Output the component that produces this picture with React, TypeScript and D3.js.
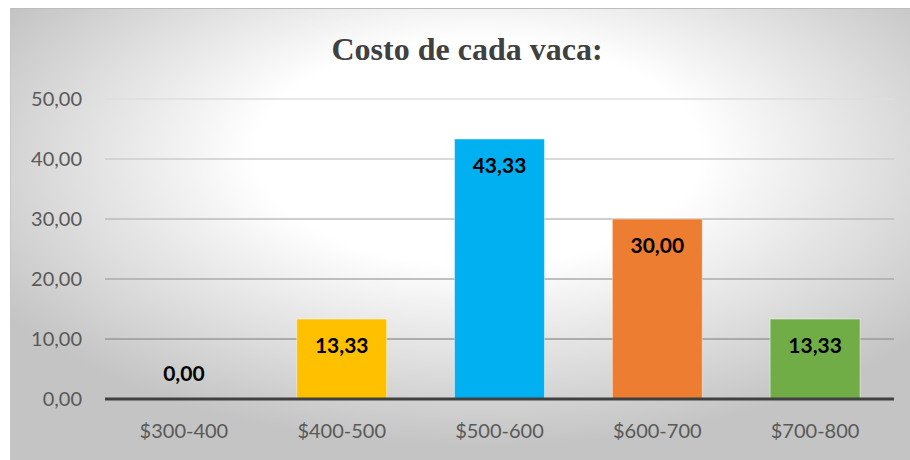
import React from "react";
import * as d3 from "d3";

const categories = ["$300-400", "$400-500", "$500-600", "$600-700", "$700-800"];
const values = [0, 13.33, 43.33, 30.0, 13.33];
const barColors = ["#A5A5A5", "#FFC000", "#00B0F0", "#ED7D31", "#70AD47"];
const yTicks = [0, 10, 20, 30, 40, 50];

const W = 910;
const H = 460;
const margin = { top: 99, right: 16, bottom: 61, left: 105 };

const fmt = (v: number) => v.toFixed(2).replace(".", ",");

const App = () => {
  const x = d3
    .scaleBand<string>()
    .domain(categories)
    .range([margin.left, W - margin.right])
    .paddingInner(0.43)
    .paddingOuter(0.215);
  const y = d3
    .scaleLinear()
    .domain([0, 50])
    .range([H - margin.bottom, margin.top]);

  const labelFont = "Lato, 'Open Sans', sans-serif";

  return (
    <svg
      width={W}
      height={H}
      style={{ position: "absolute", left: 0, top: 0 }}
    >
      <defs>
        <radialGradient id="bg" cx="52%" cy="35%" r="62%" fx="52%" fy="30%">
          <stop offset="0" stopColor="#ffffff" />
          <stop offset="0.4" stopColor="#ffffff" />
          <stop offset="1" stopColor="#c4c4c4" />
        </radialGradient>
        <linearGradient
          id="grid"
          gradientUnits="userSpaceOnUse"
          x1="0"
          y1={y(50)}
          x2="0"
          y2={y(0)}
        >
          <stop offset="0" stopColor="#dedede" />
          <stop offset="1" stopColor="#888888" />
        </linearGradient>
      </defs>
      <rect x={0} y={0} width={W} height={H} fill="#ffffff" />
      <rect x={10} y={8} width={W - 10} height={H - 8} fill="url(#bg)" />
      <line x1={10} x2={W} y1={8.5} y2={8.5} stroke="#bdbdbd" />
      <line x1={10.5} x2={10.5} y1={8} y2={H} stroke="#c6c6c6" />

      <text
        x={467}
        y={60}
        textAnchor="middle"
        fontFamily="'Liberation Serif', 'Times New Roman', serif"
        fontWeight="bold"
        fontSize={32}
        fill="#404040"
      >
        Costo de cada vaca:
      </text>

      {yTicks.map((t) => (
        <g key={t}>
          {t > 0 && (
            <line
              x1={margin.left}
              x2={W - margin.right}
              y1={y(t)}
              y2={y(t)}
              stroke="url(#grid)"
              strokeWidth={1.5}
            />
          )}
          <text
            x={82}
            y={y(t)}
            dy="0.35em"
            textAnchor="end"
            fontFamily={labelFont}
            fontSize={20}
            fill="#595959"
          >
            {fmt(t)}
          </text>
        </g>
      ))}

      {categories.map((c, i) => {
        const v = values[i];
        const bx = x(c) as number;
        const by = y(v);
        const inside = v > 0;
        return (
          <g key={c}>
            {inside && (
              <rect
                x={bx}
                y={by}
                width={x.bandwidth()}
                height={y(0) - by}
                fill={barColors[i]}
                stroke="#ffffff"
                strokeOpacity={0.45}
                strokeWidth={1}
              />
            )}
            <text
              x={bx + x.bandwidth() / 2}
              y={inside ? by + 27 : by - 25}
              dy="0.35em"
              textAnchor="middle"
              fontFamily={labelFont}
              fontWeight="bold"
              fontSize={21}
              fill="#000000"
            >
              {fmt(v)}
            </text>
            <text
              x={bx + x.bandwidth() / 2}
              y={431}
              dy="0.35em"
              textAnchor="middle"
              fontFamily={labelFont}
              fontSize={20}
              fill="#595959"
            >
              {c}
            </text>
          </g>
        );
      })}

      <line
        x1={margin.left}
        x2={W - margin.right}
        y1={y(0)}
        y2={y(0)}
        stroke="#404040"
        strokeWidth={3}
      />
    </svg>
  );
};

export default App;
